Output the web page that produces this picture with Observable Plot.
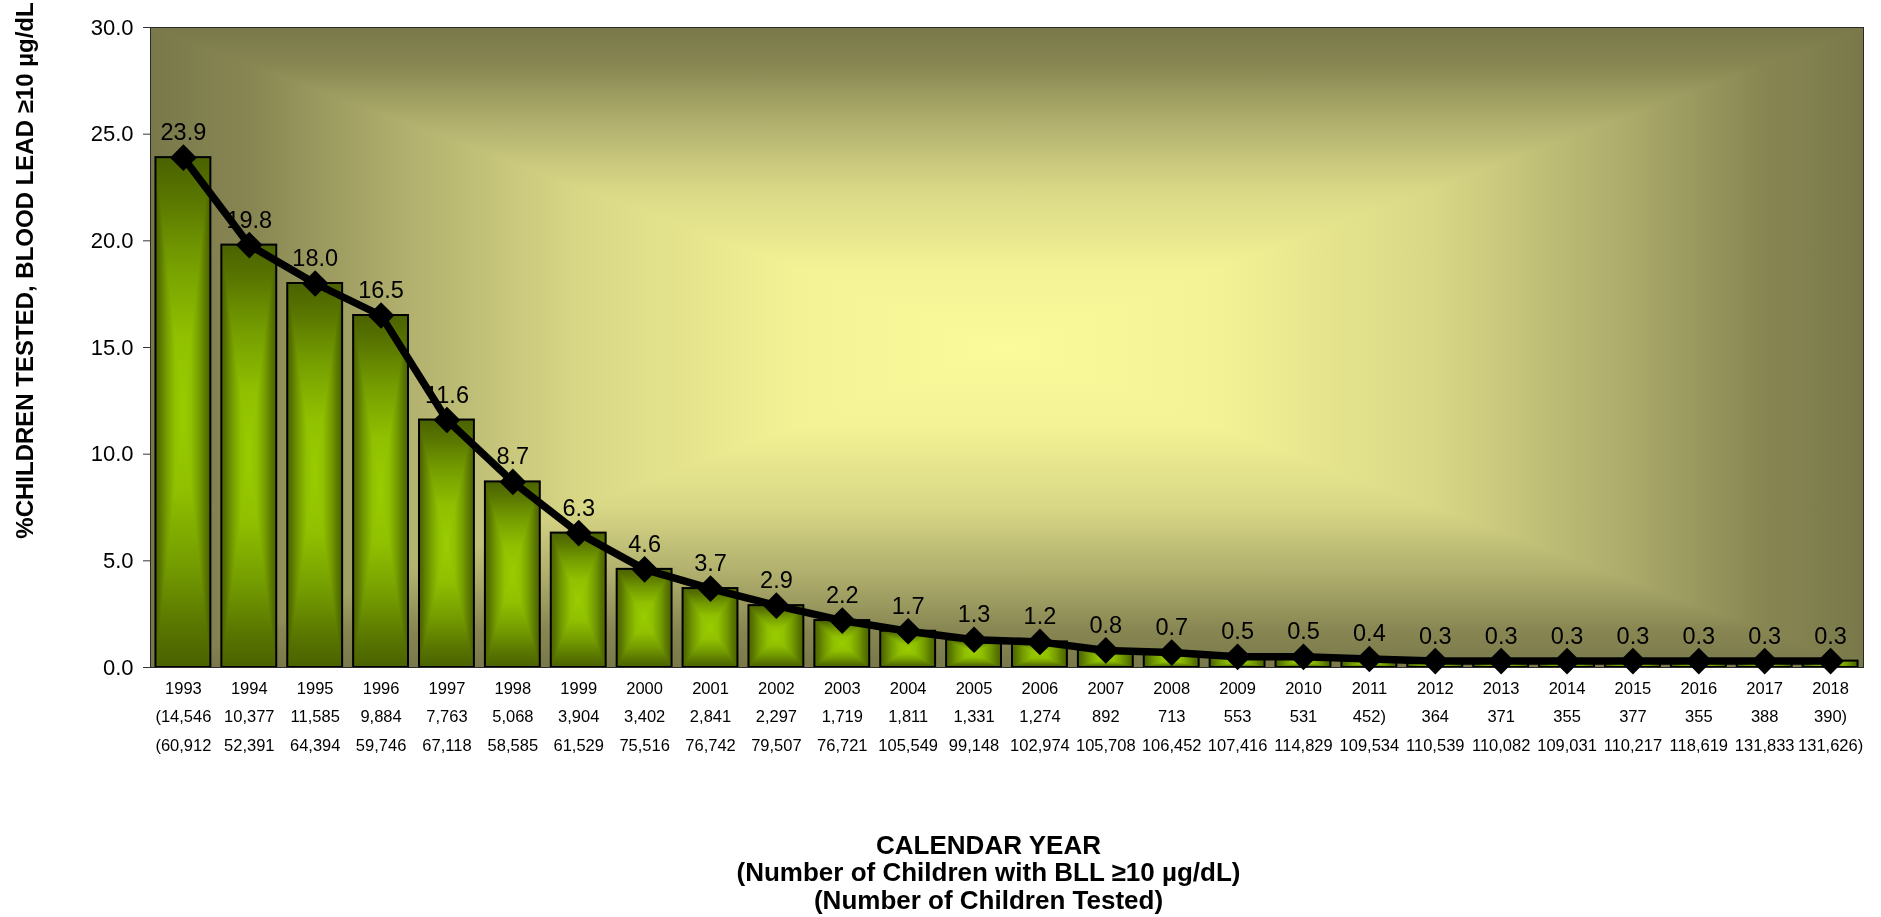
<!DOCTYPE html>
<html><head><meta charset="utf-8">
<script src="https://cdn.jsdelivr.net/npm/d3@7"></script>
<script src="https://cdn.jsdelivr.net/npm/@observablehq/plot@0.6"></script>
<style>html,body{margin:0;padding:0;background:#fff;}</style>
</head><body><div id="chart"></div>
<script>
const years = [1993,1994,1995,1996,1997,1998,1999,2000,2001,2002,2003,2004,2005,2006,2007,2008,2009,2010,2011,2012,2013,2014,2015,2016,2017,2018];
const pct = [23.9,19.8,18.0,16.5,11.6,8.7,6.3,4.6,3.7,2.9,2.2,1.7,1.3,1.2,0.8,0.7,0.5,0.5,0.4,0.3,0.3,0.3,0.3,0.3,0.3,0.3];
const bll = ["(14,546","10,377","11,585","9,884","7,763","5,068","3,904","3,402","2,841","2,297","1,719","1,811","1,331","1,274","892","713","553","531","452)","364","371","355","377","355","388","390)"];
const tested = ["(60,912","52,391","64,394","59,746","67,118","58,585","61,529","75,516","76,742","79,507","76,721","105,549","99,148","102,974","105,708","106,452","107,416","114,829","109,534","110,539","110,082","109,031","110,217","118,619","131,833","131,626)"];
const yTicks = [0,5,10,15,20,25,30];
const yTitle = "%CHILDREN TESTED, BLOOD LEAD \u226510 \u00b5g/dL";
const xTitle = ["CALENDAR YEAR", "(Number of Children with BLL \u226510 \u00b5g/dL)", "(Number of Children Tested)"];

const rows = years.map((year, i) => ({year, pct: pct[i], bll: bll[i], tested: tested[i]}));
const font = "'Liberation Sans', Arial, Helvetica, sans-serif";
const W = 1881, H = 917, mL = 150, mR = 18, mT = 27, mB = 250;
const frameCx = mL + (W - mL - mR) / 2;

const plot = Plot.plot({
  width: W, height: H, marginLeft: mL, marginRight: mR, marginTop: mT, marginBottom: mB,
  style: {fontFamily: font, fontSize: "16px", background: "#fff", color: "#000", overflow: "visible"},
  x: {type: "band", domain: years, paddingInner: 0.167, paddingOuter: 0.083, round: false, axis: null},
  y: {domain: [0, 30]},
  marks: [
    Plot.frame({fill: "url(#bgX)"}),
    Plot.frame({fill: "url(#bgY)", mixBlendMode: "darken"}),
    Plot.barY(rows, {x: "year", y: "pct", fill: "url(#barX)"}),
    Plot.barY(rows, {x: "year", y: "pct", fill: "url(#barYg)", mixBlendMode: "darken"}),
    Plot.barY(rows, {x: "year", y: "pct", fill: "none", stroke: "#000", strokeWidth: 2}),
    Plot.frame({stroke: "#2a2a2a", strokeWidth: 1}),
    Plot.axisY({ticks: yTicks, tickFormat: d3.format(".1f"), tickSize: 7, tickPadding: 10, fontSize: 22, stroke: "#333", label: null}),
    Plot.text(rows, {x: "year", y: "pct", text: d => d3.format(".1f")(d.pct), dy: -25, fontSize: 23.5, lineAnchor: "middle", fill: "#000"}),
    Plot.line(rows, {x: "year", y: "pct", stroke: "#000", strokeWidth: 7.5, strokeLinejoin: "round"}),
    Plot.dot(rows, {x: "year", y: "pct", symbol: "diamond2", r: 12, fill: "#000", stroke: "none"}),
    Plot.text(rows, {x: "year", text: d => String(d.year), frameAnchor: "bottom", dy: 21, fontSize: 16.5, lineAnchor: "middle"}),
    Plot.text(rows, {x: "year", text: d => d.bll, frameAnchor: "bottom", dy: 49, fontSize: 16.5, lineAnchor: "middle"}),
    Plot.text(rows, {x: "year", text: d => d.tested, frameAnchor: "bottom", dy: 78, fontSize: 16.5, lineAnchor: "middle"}),
    Plot.text([yTitle], {text: d => d, frameAnchor: "top-left", dx: 25 - mL, dy: 270 - mT, rotate: -90, fontSize: 24, fontWeight: "bold", lineAnchor: "middle", textAnchor: "middle"}),
    Plot.text([xTitle.join("\n")], {text: d => d, frameAnchor: "bottom", dx: 988 - frameCx, dy: 872 - (H - mB), fontSize: 26, fontWeight: "bold", lineAnchor: "middle", lineHeight: 1.05})
  ]
});

// gradients (styling only)
const bgRamp = [[0, "#fbfb9b"], [0.25, "#f3f295"], [0.5, "#d8d786"], [0.72, "#adac6b"], [0.88, "#888753"], [1, "#79784a"]];
const barRamp = [[0, "#9acd00"], [0.3, "#90c000"], [0.6, "#749c00"], [0.85, "#587400"], [1, "#4a6200"]];
const svg = d3.select(plot);
const defs = svg.insert("defs", ":first-child");
function grad(id, ramp, vertical) {
  const g = defs.append("linearGradient").attr("id", id)
    .attr("x1", 0).attr("y1", 0).attr("x2", vertical ? 0 : 1).attr("y2", vertical ? 1 : 0);
  const stops = [];
  ramp.slice().reverse().forEach(([d, c]) => stops.push([0.5 - d / 2, c]));
  ramp.forEach(([d, c]) => { if (d > 0) stops.push([0.5 + d / 2, c]); });
  stops.forEach(([o, c]) => g.append("stop").attr("offset", o).attr("stop-color", c));
}
grad("bgX", bgRamp, false);
grad("bgY", bgRamp, true);
grad("barX", barRamp, false);
grad("barYg", barRamp, true);
svg.selectAll('[fill="url(#bgY)"], [fill="url(#barYg)"]').style("mix-blend-mode", "darken");

document.getElementById("chart").appendChild(plot);
</script>
</body></html>
